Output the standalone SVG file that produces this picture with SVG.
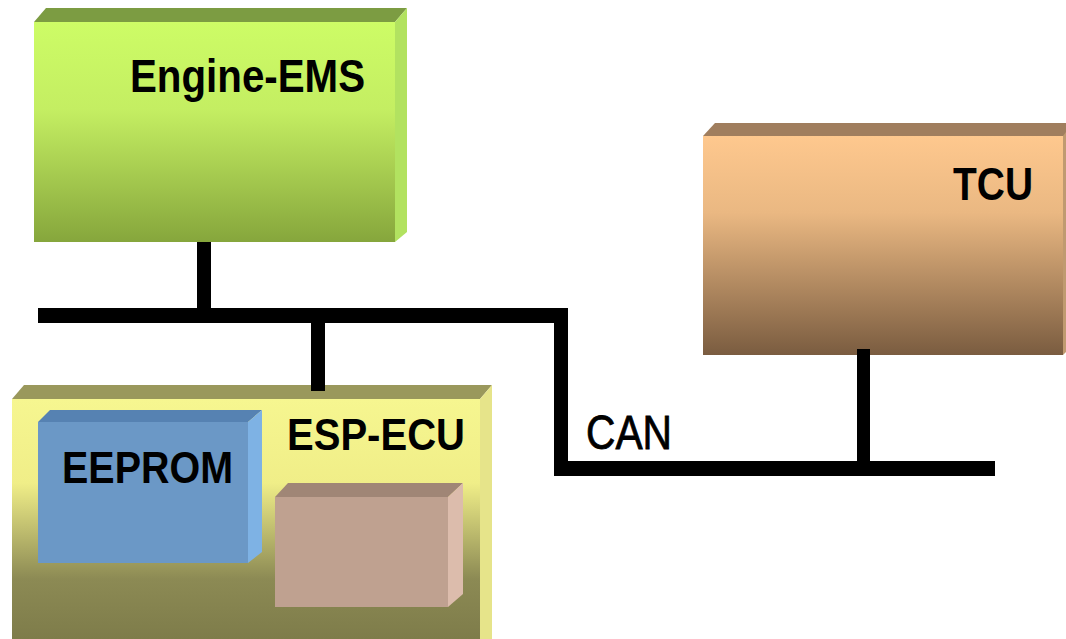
<svg xmlns="http://www.w3.org/2000/svg" width="1066" height="639" viewBox="0 0 1066 639">
<defs>
<linearGradient id="gEng" x1="0" y1="0" x2="0" y2="1"><stop offset="0" stop-color="#cdfc66"/><stop offset="0.4" stop-color="#c4ee62"/><stop offset="1" stop-color="#86a63c"/></linearGradient>
<linearGradient id="gTcu" x1="0" y1="0" x2="0" y2="1"><stop offset="0" stop-color="#fec88e"/><stop offset="0.35" stop-color="#eab882"/><stop offset="1" stop-color="#7a5c40"/></linearGradient>
<linearGradient id="gEsp" x1="0" y1="0" x2="0" y2="1"><stop offset="0" stop-color="#f6f690"/><stop offset="0.35" stop-color="#f0ee88"/><stop offset="0.75" stop-color="#8c8a54"/><stop offset="1" stop-color="#7e7c4a"/></linearGradient>
<style>
.lbl{font-family:"Liberation Sans",Arial,sans-serif;font-weight:bold;fill:#000}
.bus{fill:#000}
</style>
</defs>
<rect width="1066" height="639" fill="#fff"/>
<g id="engine-ems">
<polygon points="34,22 46,8 407,8 395,22" fill="#7c9c42"/>
<polygon points="395,22 407,8 407,232 395,242" fill="#b2e260"/>
<rect x="34" y="22" width="361" height="220" fill="url(#gEng)"/>
<text class="lbl" x="130" y="92" font-size="46" textLength="235" lengthAdjust="spacingAndGlyphs">Engine-EMS</text>
</g>
<g id="tcu">
<polygon points="703,136 715,123 1066,123 1066,136" fill="#a07e5e"/>
<rect x="703" y="136" width="360" height="219" fill="url(#gTcu)"/>
<polygon points="1063,136 1066,132 1066,352 1063,355" fill="#c09a70"/>
<text class="lbl" x="953" y="200" font-size="46" textLength="80" lengthAdjust="spacingAndGlyphs">TCU</text>
</g>
<g id="esp-ecu">
<polygon points="12,399 24,385 492,385 480,399" fill="#9a985c"/>
<polygon points="480,399 492,385 492,639 480,639" fill="#e6e48a"/>
<rect x="12" y="399" width="468" height="240" fill="url(#gEsp)"/>
<text class="lbl" x="287" y="450" font-size="45" textLength="178" lengthAdjust="spacingAndGlyphs">ESP-ECU</text>
</g>
<g id="eeprom">
<polygon points="38,422 50,410 262,410 248,422" fill="#5682b2"/>
<polygon points="248,422 262,410 262,552 248,563" fill="#7eb2e4"/>
<rect x="38" y="422" width="210" height="141" fill="#6b98c6"/>
<text class="lbl" x="62" y="483" font-size="44" textLength="171" lengthAdjust="spacingAndGlyphs">EEPROM</text>
</g>
<g id="inner-block">
<polygon points="275,497 288,483 463,483 448,497" fill="#a08676"/>
<polygon points="448,497 463,483 463,594 448,607" fill="#dcbcac"/>
<rect x="275" y="497" width="173" height="110" fill="#bfa190"/>
</g>
<g id="connectors">
<rect class="bus" x="38" y="308" width="530" height="15"/>
<rect class="bus" x="554" y="308" width="14" height="168"/>
<rect class="bus" x="554" y="461" width="441" height="15"/>
<rect class="bus" x="197" y="242" width="14" height="68"/>
<rect class="bus" x="311" y="321" width="14" height="70"/>
<rect class="bus" x="857" y="349" width="13" height="114"/>
<text x="586" y="449" font-family="'Liberation Sans',Arial,sans-serif" font-size="48" textLength="86" lengthAdjust="spacingAndGlyphs" stroke="#000" stroke-width="0.8">CAN</text>
</g>
</svg>
